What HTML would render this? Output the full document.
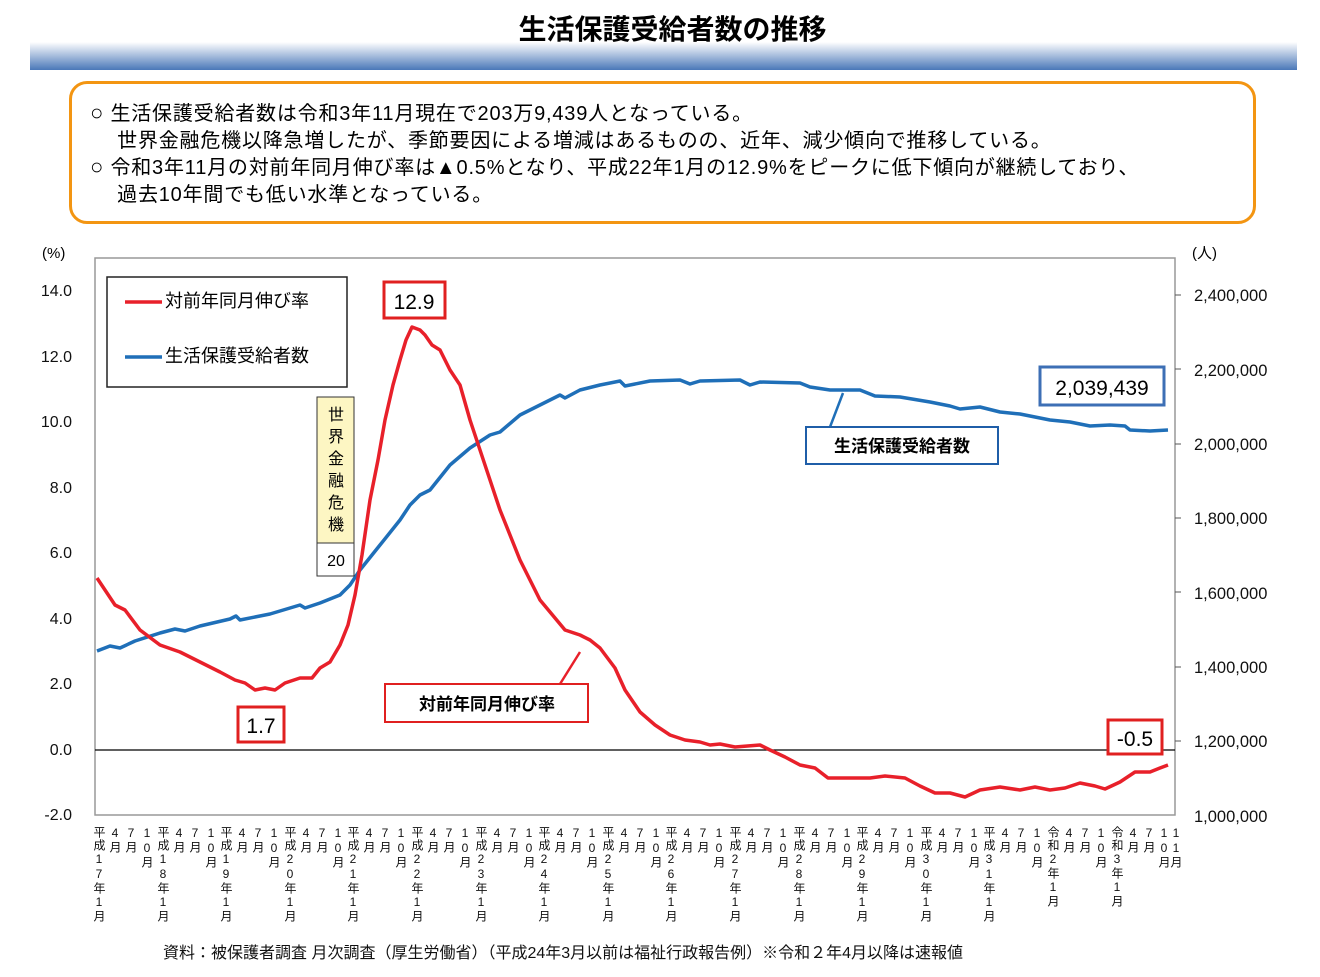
<!DOCTYPE html>
<html><head><meta charset="utf-8">
<style>
body{margin:0;width:1320px;height:977px;background:#fff;position:relative;font-family:"Liberation Sans","Noto Sans CJK JP",sans-serif;overflow:hidden}
.t{position:absolute}
.v{position:absolute;top:826px;writing-mode:vertical-rl;text-orientation:upright;font-size:12px;line-height:12px;letter-spacing:1px;color:#111;width:12px}
</style></head><body>
<div class="t" style="left:30px;top:42px;width:1267px;height:28px;background:linear-gradient(#fff,#4a78b8)"></div>
<div class="t" style="left:0;width:1345px;top:8px;text-align:center;font-size:28px;font-weight:bold;z-index:2">生活保護受給者数の推移</div>
<div class="t" style="left:69px;top:81px;width:1181px;height:137px;border:3px solid #f39512;border-radius:18px;"></div>
<div class="t" style="left:90px;top:100px;font-size:20px;line-height:26.5px;color:#000;letter-spacing:0.8px;white-space:nowrap">
<span style="font-size:22px">○</span> 生活保護受給者数は令和3年11月現在で203万9,439人となっている。<br>
　 世界金融危機以降急増したが、季節要因による増減はあるものの、近年、減少傾向で推移している。<br>
<span style="font-size:22px">○</span> 令和3年11月の対前年同月伸び率は▲0.5%となり、平成22年1月の12.9%をピークに低下傾向が継続しており、<br>
　 過去10年間でも低い水準となっている。</div>

<svg class="t" style="left:0;top:0" width="1320" height="977" font-family="Liberation Sans, Noto Sans CJK JP, sans-serif">
<rect x="95" y="258" width="1080" height="557" fill="none" stroke="#999" stroke-width="1.5"/>
<line x1="95" y1="750" x2="1175" y2="750" stroke="#000" stroke-width="1.2"/>
<g font-size="16" text-anchor="end" fill="#111">
<text x="72" y="296">14.0</text><text x="72" y="362">12.0</text><text x="72" y="427">10.0</text><text x="72" y="493">8.0</text><text x="72" y="558">6.0</text><text x="72" y="624">4.0</text><text x="72" y="689">2.0</text><text x="72" y="755">0.0</text><text x="72" y="820">-2.0</text>
</g>
<text x="42" y="258" font-size="15">(%)</text>
<text x="1192" y="258" font-size="15">(人)</text>
<g stroke="#555"><line x1="1175" y1="295" x2="1181" y2="295"/><line x1="1175" y1="369" x2="1181" y2="369"/><line x1="1175" y1="444" x2="1181" y2="444"/><line x1="1175" y1="518" x2="1181" y2="518"/><line x1="1175" y1="592" x2="1181" y2="592"/><line x1="1175" y1="667" x2="1181" y2="667"/><line x1="1175" y1="741" x2="1181" y2="741"/></g>
<g font-size="16.5" fill="#111">
<text x="1194" y="301">2,400,000</text><text x="1194" y="376">2,200,000</text><text x="1194" y="450">2,000,000</text><text x="1194" y="524">1,800,000</text><text x="1194" y="599">1,600,000</text><text x="1194" y="673">1,400,000</text><text x="1194" y="747">1,200,000</text><text x="1194" y="822">1,000,000</text>
</g>
<polyline fill="none" stroke="#1f6fb8" stroke-width="3.5" stroke-linejoin="round" points="97,651 110,646 120,648 135,641 160,633 175,629 185,631 200,626 230,619 236,616 240,620 270,614 300,605 305,608 320,603 340,595 350,585 360,570 380,545 400,520 410,505 420,495 430,490 450,465 470,448 490,435 500,432 520,415 540,405 560,395 565,398 580,390 600,385 620,381 625,386 650,381 680,380 690,384 700,381 740,380 750,385 760,382 800,383 810,387 830,390 850,390 860,390 875,396 900,397 930,402 950,406 960,409 980,407 1000,412 1020,414 1050,420 1070,422 1090,426 1110,425 1125,426 1130,430 1150,431 1168,430"/>
<polyline fill="none" stroke="#e8202a" stroke-width="3.5" stroke-linejoin="round" points="97,578 105,590 115,605 125,610 140,630 160,645 180,652 200,662 220,672 235,680 245,683 255,690 265,688 275,690 285,683 300,678 312,678 320,668 330,662 340,645 348,625 355,595 362,555 370,500 378,460 385,420 393,385 400,360 406,340 412,327 420,330 425,335 432,345 440,350 450,370 460,385 470,420 480,450 490,480 500,510 510,535 520,560 530,580 540,600 555,618 565,630 580,635 590,640 600,648 615,668 625,690 640,712 655,725 670,735 685,740 700,742 710,745 720,744 735,747 760,745 770,750 785,757 800,765 815,768 828,778 845,778 870,778 885,776 905,778 920,786 935,793 950,793 965,797 980,790 1000,787 1020,790 1035,787 1050,790 1065,788 1080,783 1095,786 1105,789 1120,782 1135,772 1150,772 1160,768 1168,765"/>
<rect x="107" y="277" width="240" height="110" fill="#fff" stroke="#222" stroke-width="1.5"/>
<line x1="125" y1="302" x2="162" y2="302" stroke="#e8202a" stroke-width="3.5"/>
<line x1="125" y1="357" x2="162" y2="357" stroke="#1f6fb8" stroke-width="3.5"/>
<text x="165" y="307" font-size="18">対前年同月伸び率</text>
<text x="165" y="362" font-size="18">生活保護受給者数</text>
<rect x="384" y="282" width="61" height="36" fill="#fff" stroke="#e02020" stroke-width="3"/>
<text x="414" y="309" font-size="21" text-anchor="middle">12.9</text>
<rect x="238" y="707" width="46" height="35" fill="#fff" stroke="#e02020" stroke-width="3"/>
<text x="261" y="733" font-size="21" text-anchor="middle">1.7</text>
<rect x="1108" y="720" width="54" height="34" fill="#fff" stroke="#e02020" stroke-width="3"/>
<text x="1135" y="746" font-size="21" text-anchor="middle">-0.5</text>
<rect x="1040" y="367" width="124" height="38" fill="#fff" stroke="#3d6fb5" stroke-width="3"/>
<text x="1102" y="395" font-size="21" text-anchor="middle">2,039,439</text>
<line x1="843" y1="393" x2="830" y2="427" stroke="#1f6fb8" stroke-width="2.5"/>
<rect x="806" y="427" width="192" height="37" fill="#fff" stroke="#1f5ea8" stroke-width="2"/>
<text x="902" y="452" font-size="17" font-weight="bold" text-anchor="middle">生活保護受給者数</text>
<line x1="580" y1="652" x2="560" y2="684" stroke="#e8202a" stroke-width="2.5"/>
<rect x="385" y="684" width="203" height="38" fill="#fff" stroke="#e02020" stroke-width="2"/>
<text x="487" y="710" font-size="17" font-weight="bold" text-anchor="middle">対前年同月伸び率</text>
<rect x="317" y="397" width="37" height="146" fill="#fdf6c3" stroke="#333" stroke-width="1"/>
<rect x="317" y="543" width="37" height="33" fill="#fff" stroke="#333" stroke-width="1"/>
<g font-size="16" text-anchor="middle"><text x="336" y="420">世</text><text x="336" y="442">界</text><text x="336" y="464">金</text><text x="336" y="486">融</text><text x="336" y="508">危</text><text x="336" y="530">機</text><text x="336" y="566">20</text></g>
</svg>

<div class="v" style="left:93px">平成17年1月</div><div class="v" style="left:109px">4月</div><div class="v" style="left:125px">7月</div><div class="v" style="left:141px">10月</div>
<div class="v" style="left:157px">平成18年1月</div><div class="v" style="left:173px">4月</div><div class="v" style="left:189px">7月</div><div class="v" style="left:205px">10月</div>
<div class="v" style="left:220px">平成19年1月</div><div class="v" style="left:236px">4月</div><div class="v" style="left:252px">7月</div><div class="v" style="left:268px">10月</div>
<div class="v" style="left:284px">平成20年1月</div><div class="v" style="left:300px">4月</div><div class="v" style="left:316px">7月</div><div class="v" style="left:332px">10月</div>
<div class="v" style="left:347px">平成21年1月</div><div class="v" style="left:363px">4月</div><div class="v" style="left:379px">7月</div><div class="v" style="left:395px">10月</div>
<div class="v" style="left:411px">平成22年1月</div><div class="v" style="left:427px">4月</div><div class="v" style="left:443px">7月</div><div class="v" style="left:459px">10月</div>
<div class="v" style="left:475px">平成23年1月</div><div class="v" style="left:491px">4月</div><div class="v" style="left:507px">7月</div><div class="v" style="left:523px">10月</div>
<div class="v" style="left:538px">平成24年1月</div><div class="v" style="left:554px">4月</div><div class="v" style="left:570px">7月</div><div class="v" style="left:586px">10月</div>
<div class="v" style="left:602px">平成25年1月</div><div class="v" style="left:618px">4月</div><div class="v" style="left:634px">7月</div><div class="v" style="left:650px">10月</div>
<div class="v" style="left:665px">平成26年1月</div><div class="v" style="left:681px">4月</div><div class="v" style="left:697px">7月</div><div class="v" style="left:713px">10月</div>
<div class="v" style="left:729px">平成27年1月</div><div class="v" style="left:745px">4月</div><div class="v" style="left:761px">7月</div><div class="v" style="left:777px">10月</div>
<div class="v" style="left:793px">平成28年1月</div><div class="v" style="left:809px">4月</div><div class="v" style="left:825px">7月</div><div class="v" style="left:841px">10月</div>
<div class="v" style="left:856px">平成29年1月</div><div class="v" style="left:872px">4月</div><div class="v" style="left:888px">7月</div><div class="v" style="left:904px">10月</div>
<div class="v" style="left:920px">平成30年1月</div><div class="v" style="left:936px">4月</div><div class="v" style="left:952px">7月</div><div class="v" style="left:968px">10月</div>
<div class="v" style="left:983px">平成31年1月</div><div class="v" style="left:999px">4月</div><div class="v" style="left:1015px">7月</div><div class="v" style="left:1031px">10月</div>
<div class="v" style="left:1047px">令和2年1月</div><div class="v" style="left:1063px">4月</div><div class="v" style="left:1079px">7月</div><div class="v" style="left:1095px">10月</div>
<div class="v" style="left:1111px">令和3年1月</div><div class="v" style="left:1127px">4月</div><div class="v" style="left:1143px">7月</div><div class="v" style="left:1158px">10月</div><div class="v" style="left:1170px">11月</div>

<div class="t" style="left:163px;top:939px;font-size:16px;color:#111;white-space:nowrap">資料：被保護者調査 月次調査（厚生労働省）（平成24年3月以前は福祉行政報告例）※令和２年4月以降は速報値</div>
</body></html>
